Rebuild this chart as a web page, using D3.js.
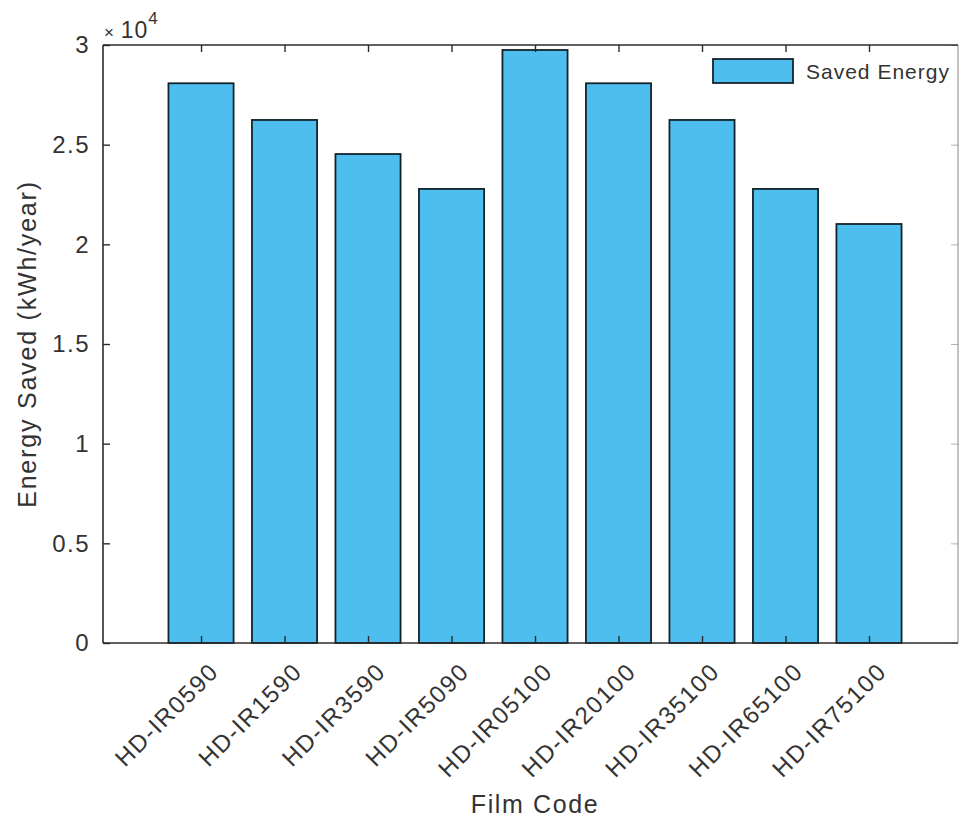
<!DOCTYPE html>
<html>
<head>
<meta charset="utf-8">
<script src="https://cdn.jsdelivr.net/npm/d3@7"></script>
<style>
  html, body { margin: 0; padding: 0; background: #fff; }
  svg { display: block; }
  text { font-family: "Liberation Sans", Arial, Helvetica, sans-serif; }
</style>
</head>
<body>
<svg id="chart" width="960" height="819"></svg>
<script>
// ---- data ----
const categories = ["HD-IR0590", "HD-IR1590", "HD-IR3590", "HD-IR5090", "HD-IR05100",
                    "HD-IR20100", "HD-IR35100", "HD-IR65100", "HD-IR75100"];
const savedEnergy = [28080, 26240, 24530, 22780, 29750, 28080, 26240, 22780, 21020];
const yTicks = [0, 5000, 10000, 15000, 20000, 25000, 30000];
const yTickLabels = ["0", "0.5", "1", "1.5", "2", "2.5", "3"];
const seriesName = "Saved Energy";
const xTitle = "Film Code";
const yTitle = "Energy Saved (kWh/year)";

(function () {
// ---- layout ----
const svg = d3.select("#chart");
const pL = 103, pR = 958, pT = 45, pB = 643;
const axisColor = "#2b2b2b", textColor = "#333";
const barFill = "#4DBEEE", barStroke = "#14232b";

const x = d3.scaleLinear().domain([-1.174, 9.066]).range([pL, pR]);
const y = d3.scaleLinear().domain([0, 30000]).range([pB, pT]);
const barW = 0.78;

// bars
svg.append("g").selectAll("rect")
  .data(savedEnergy)
  .join("rect")
  .attr("x", (d, i) => x(i - barW / 2))
  .attr("width", (d, i) => x(i + barW / 2) - x(i - barW / 2))
  .attr("y", d => y(d))
  .attr("height", d => y(0) - y(d))
  .attr("fill", barFill)
  .attr("stroke", barStroke)
  .attr("stroke-width", 1.8);

// axes box
const box = svg.append("g").attr("stroke", axisColor).attr("stroke-width", 1.6).attr("fill", "none");
box.append("line").attr("x1", pL).attr("x2", pR).attr("y1", pB).attr("y2", pB);
box.append("line").attr("x1", pL).attr("x2", pR).attr("y1", pT).attr("y2", pT);
box.append("line").attr("x1", pL).attr("x2", pL).attr("y1", pT).attr("y2", pB);
box.append("line").attr("x1", pR).attr("x2", pR).attr("y1", pT).attr("y2", pB).attr("stroke-opacity", 0.35);

// y axis
const yAxis = svg.append("g")
  .attr("transform", `translate(${pL},0)`)
  .call(d3.axisLeft(y).tickValues(yTicks)
    .tickFormat((d, i) => yTickLabels[i])
    .tickSizeInner(-7).tickSizeOuter(0).tickPadding(13));
yAxis.select(".domain").remove();
yAxis.attr("font-family", null).attr("font-size", null);
yAxis.selectAll("line").attr("stroke", axisColor).attr("stroke-width", 1.4);
yAxis.selectAll("text").attr("fill", textColor)
  .style("font-size", "24px").style("letter-spacing", "1.5px");

// right ticks (faint)
const yAxisR = svg.append("g")
  .attr("transform", `translate(${pR},0)`)
  .call(d3.axisRight(y).tickValues(yTicks).tickFormat("").tickSizeInner(-7).tickSizeOuter(0));
yAxisR.select(".domain").remove();
yAxisR.selectAll("line").attr("stroke", axisColor).attr("stroke-opacity", 0.35);

// x axis (bottom)
const xAxis = svg.append("g")
  .attr("transform", `translate(0,${pB})`)
  .call(d3.axisBottom(x).tickValues(d3.range(categories.length))
    .tickFormat("").tickSizeInner(-7).tickSizeOuter(0));
xAxis.select(".domain").remove();
xAxis.selectAll("line").attr("stroke", axisColor).attr("stroke-width", 1.4);

// x axis (top ticks)
const xAxisT = svg.append("g")
  .attr("transform", `translate(0,${pT})`)
  .call(d3.axisTop(x).tickValues(d3.range(categories.length))
    .tickFormat("").tickSizeInner(-7).tickSizeOuter(0));
xAxisT.select(".domain").remove();
xAxisT.selectAll("line").attr("stroke", axisColor).attr("stroke-width", 1.4);

// rotated x tick labels
svg.append("g").selectAll("text")
  .data(categories)
  .join("text")
  .attr("transform", (d, i) => `translate(${x(i) + 13},${pB + 24}) rotate(-45)`)
  .attr("text-anchor", "end")
  .attr("dominant-baseline", "central")
  .attr("fill", textColor)
  .style("font-size", "24px")
  .style("letter-spacing", "1.6px")
  .text(d => d);

// exponent label
const ex = svg.append("text")
  .attr("x", pL + 1).attr("y", 38)
  .attr("fill", textColor)
  .style("font-size", "23px")
  .style("letter-spacing", "1px");
ex.append("tspan").style("font-size", "17px").text("\u00d7 ");
ex.append("tspan").text("10");
ex.append("tspan").attr("dy", -14).style("font-size", "17px").text("4");

// axis titles
svg.append("text")
  .attr("x", 535).attr("y", 813)
  .attr("text-anchor", "middle")
  .attr("fill", textColor)
  .style("font-size", "25px").style("letter-spacing", "1.6px")
  .text(xTitle);

svg.append("text")
  .attr("transform", `translate(36,344) rotate(-90)`)
  .attr("text-anchor", "middle")
  .attr("fill", textColor)
  .style("font-size", "25px").style("letter-spacing", "1.8px")
  .text(yTitle);

// legend
const lg = svg.append("g");
lg.append("rect")
  .attr("x", 713).attr("y", 59).attr("width", 80).attr("height", 24)
  .attr("fill", barFill).attr("stroke", barStroke).attr("stroke-width", 1.8);
lg.append("text")
  .attr("x", 806).attr("y", 71)
  .attr("dominant-baseline", "central")
  .attr("fill", textColor)
  .style("font-size", "21px").style("letter-spacing", "1px")
  .text(seriesName);
})();
</script>
</body>
</html>
